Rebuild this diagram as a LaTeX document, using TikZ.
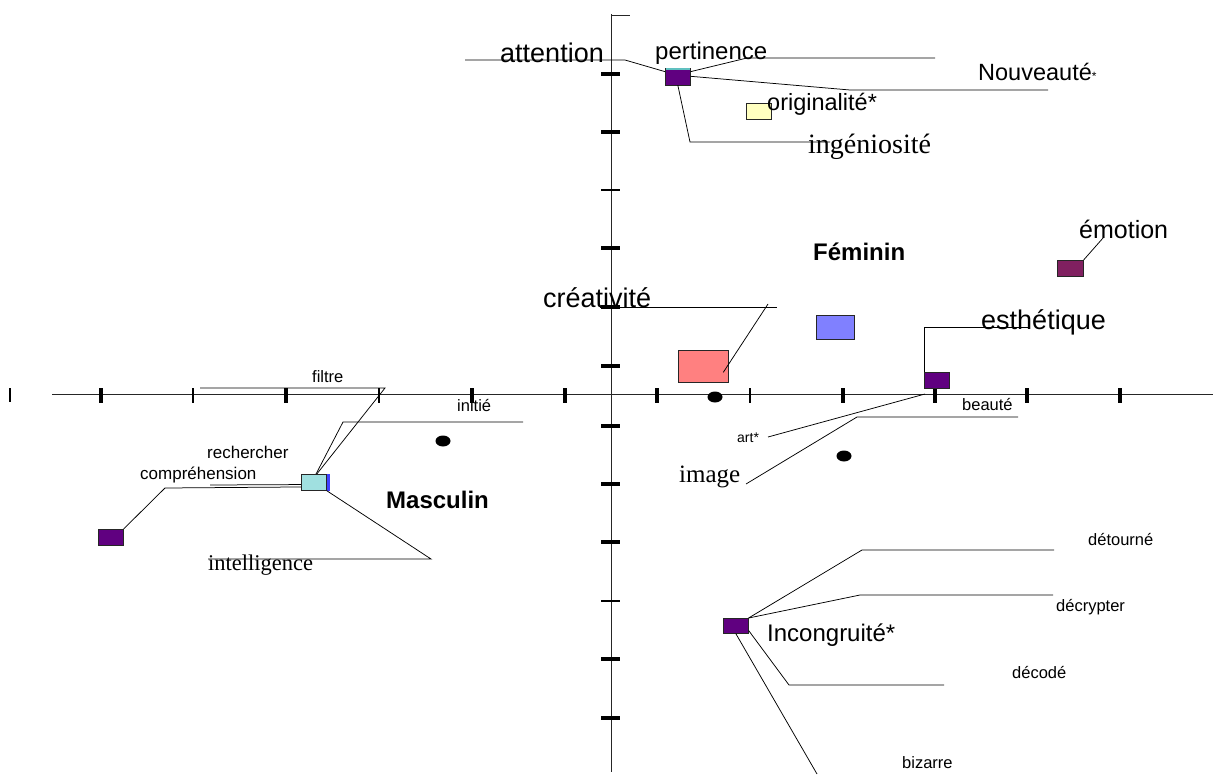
\documentclass[tikz,border=0pt]{standalone}
\usepackage{fontspec}
\setmainfont{Liberation Sans}
\newfontfamily\seriffam{Liberation Serif}
\usetikzlibrary{calc}
\newcommand\fsz[1]{\fontsize{#1}{#1}\selectfont}
\definecolor{purp}{RGB}{96,0,128}
\definecolor{maroon}{RGB}{128,32,96}
\definecolor{pinkc}{RGB}{255,128,128}
\definecolor{bluec}{RGB}{128,128,255}
\definecolor{yellc}{RGB}{255,255,192}
\definecolor{cyanc}{RGB}{160,224,224}
\definecolor{tealc}{RGB}{96,192,192}
\definecolor{stripc}{RGB}{64,64,255}
\begin{document}
\begin{tikzpicture}[x=1pt,y=-1pt,
  lbl/.style={inner sep=0pt,anchor=base west},
  ln/.style={line width=0.75pt,black},
  axisln/.style={line width=0.9pt,black!85},
  tk/.style={line width=3.4pt},
  tkthin/.style={line width=2pt},
  box/.style={draw=black!85,line width=0.6pt,inner sep=0pt,anchor=north west},
  dotc/.style={fill=black}]
\useasboundingbox (0,0) rectangle (1213,774);
% axes
\draw[axisln] (611,14) -- (611,772);
\draw[axisln] (611,15) -- (630,15);
\draw[axisln] (52,394) -- (1213,394);
\draw[line width=2pt] (10,388) -- (10,402);
\foreach \x in {101,286,472,565,657,843,935,1027,1120}
  \draw[tk] (\x,388) -- (\x,403);
\foreach \x in {193,379,750}
  \draw[tkthin] (\x,388) -- (\x,403);
\foreach \y in {74,132,248,307,366,426,484,542,659,718}
  \draw[tk] (601,\y) -- (620,\y);
\foreach \y in {190,601}
  \draw[tkthin] (601,\y) -- (620,\y);
% dots
\fill[dotc] (715,397) ellipse (7.5 and 5.5);
\fill[dotc] (443,441) ellipse (7.5 and 5.5);
\fill[dotc] (844,456) ellipse (7.5 and 5.5);
% boxes
\node[box,fill=purp,minimum width=25,minimum height=17] (b1) at (665,67.5) {};
\fill[tealc] ($(b1.north west)+(0.5,0.5)$) rectangle ($(b1.north east)+(-0.5,2.5)$);
\node[box,fill=yellc,minimum width=25,minimum height=16] (b2) at (746,103) {};
\node[box,fill=maroon,minimum width=26,minimum height=16] (b3) at (1057,260) {};
\node[box,fill=purp,minimum width=25,minimum height=16] (b4) at (924,372) {};
\node[box,fill=bluec,minimum width=38,minimum height=24] (b5) at (816,315) {};
\node[box,fill=pinkc,minimum width=50,minimum height=32] (b6) at (678,350) {};
\node[box,fill=cyanc,minimum width=25,minimum height=16] (b7) at (301,474) {};
\fill[stripc] (b7.north east) rectangle ($(b7.south east)+(3,0)$);
\node[box,fill=purp,minimum width=25,minimum height=16] (b8) at (98,529) {};
\node[box,fill=purp,minimum width=25,minimum height=15] (b9) at (723,618) {};
% bend coordinates
\coordinate (a1) at (465,60); \coordinate (a2) at (625,60);
\coordinate (p1) at (747,58); \coordinate (p2) at (935,58);
\coordinate (n1) at (850,90); \coordinate (n2) at (1048,90);
\coordinate (g1) at (690,142); \coordinate (g2) at (830,142);
\coordinate (e1) at (1103,238);
\coordinate (s1) at (924,327); \coordinate (s2) at (1030,327);
\coordinate (c1) at (600,307); \coordinate (c2) at (777,307);
\coordinate (c3) at (768,304); \coordinate (c4) at ($(b6.center)+(20,6)$);
\coordinate (r0) at (925,394); \coordinate (r1) at (768,437);
\coordinate (m1) at (746,484); \coordinate (m2) at (857,417); \coordinate (m3) at (1018,417);
\coordinate (f1) at (200,388); \coordinate (f2) at (385,388);
\coordinate (i1) at (523,422); \coordinate (i2) at (343,422);
\coordinate (k1) at (165,488); \coordinate (k2) at (210,485);
\coordinate (t1) at (431,559); \coordinate (t2) at (208,559);
\coordinate (d1) at (862,550); \coordinate (d2) at (1054,550);
\coordinate (d3) at (860,595); \coordinate (d4) at (1053,595);
\coordinate (d5) at (789,685); \coordinate (d6) at (944,685);
\coordinate (d7) at (817,774);
% connectors
\draw[ln] (a1) -- (a2) -- (b1.160);
\draw[ln] (b1.20) -- (p1) -- (p2);
\draw[ln] (b1.east) -- (n1) -- (n2);
\draw[ln] (b1.south) -- (g1) -- (g2);
\draw[ln] (b3.north east) -- (e1);
\draw[ln] (b4.north west) -- (s1) -- (s2);
\draw[ln] (c1) -- (c2);
\draw[ln] (c3) -- (c4);
\draw[ln] (r1) -- (r0);
\draw[ln] (m1) -- (m2) -- (m3);
\draw[ln] (f1) -- (f2) -- (b7.70);
\draw[ln] (i1) -- (i2) -- (b7.75);
\draw[ln] (k1) -- (b7.200);
\draw[ln] (k2) -- (b7.190);
\draw[ln] (k1) -- (b8.north east);
\draw[ln] (b7.south east) -- (t1) -- (t2);
\draw[ln] (b9.north east) -- (d1) -- (d2);
\draw[ln] (b9.north east) -- (d3) -- (d4);
\draw[ln] (b9.-20) -- (d5) -- (d6);
\draw[ln] (b9.south) -- (d7);
% labels
\node[lbl,font=\fsz{27}] (Tatt) at (500,62) {attention};
\node[lbl,font=\fsz{24}] (Tper) at (655,59) {pertinence};
\node[lbl,font=\fsz{23.5}] (Tnou) at (978,80) {Nouveauté{\fsz{12}*}};
\node[lbl,font=\fsz{23.5}] (Tori) at (767,110) {originalité*};
\node[lbl,font=\seriffam\fsz{28}] (Ting) at (808,153) {ingéniosité};
\node[lbl,font=\bfseries\fsz{24}] (Tfem) at (813,260) {Féminin};
\node[lbl,font=\fsz{25}] (Temo) at (1079,238) {émotion};
\node[lbl,font=\fsz{27}] (Tcre) at (543,307) {créativité};
\node[lbl,font=\fsz{27}] (Test) at (981,329) {esthétique};
\node[lbl,font=\fsz{16.5}] (Tbea) at (962,410) {beauté};
\node[lbl,font=\fsz{14}] (Tart) at (737,442) {art*};
\node[lbl,font=\seriffam\fsz{25}] (Timg) at (679,482) {image};
\node[lbl,font=\fsz{16.5}] (Tfil) at (312,382) {filtre};
\node[lbl,font=\fsz{16.5}] (Tini) at (457,411) {initié};
\node[lbl,font=\fsz{17}] (Trec) at (207,458) {rechercher};
\node[lbl,font=\fsz{17}] (Tcom) at (140,479) {compréhension};
\node[lbl,font=\bfseries\fsz{24}] (Tmas) at (386,508) {Masculin};
\node[lbl,font=\seriffam\fsz{22.5}] (Tint) at (208,570) {intelligence};
\node[lbl,font=\fsz{24}] (Tinc) at (767,641) {Incongruité*};
\node[lbl,font=\fsz{16.5}] (Tdet) at (1088,545) {détourné};
\node[lbl,font=\fsz{16.5}] (Tdec) at (1056,611) {décrypter};
\node[lbl,font=\fsz{16.5}] (Tdco) at (1012,678) {décodé};
\node[lbl,font=\fsz{16.5}] (Tbiz) at (902,768) {bizarre};
\end{tikzpicture}
\end{document}
